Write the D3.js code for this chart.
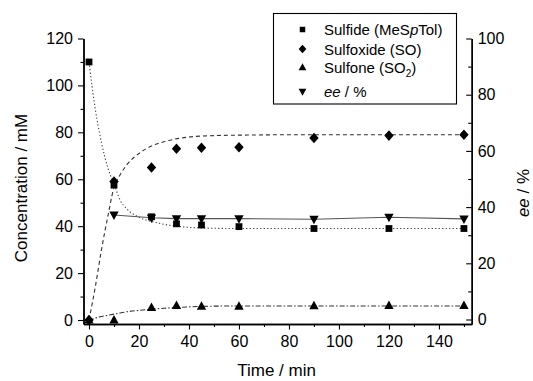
<!DOCTYPE html>
<html>
<head>
<meta charset="utf-8">
<script src="https://cdn.jsdelivr.net/npm/d3@7"></script>
<style>
  body { margin: 0; background: #fff; }
  svg { font-family: "Liberation Sans", Arial, sans-serif; }
</style>
</head>
<body>
<div id="chart"></div>
<script>
// measured points
var times = [0, 10, 25, 35, 45, 60, 90, 120, 150];
var sulfide = [110, 57.5, 44, 41, 40.5, 39.8, 39, 39, 39];
var sulfoxide = [0, 59, 65, 73, 73.4, 73.6, 77.6, 78.6, 79];
var sulfone = [0, 0, 5.3, 6.1, 5.8, 5.8, 6.0, 6.1, 6.1];
var eeTimes = [10, 25, 35, 45, 60, 90, 120, 150];
var ee = [37.2, 36.2, 35.9, 35.9, 35.9, 35.7, 36.4, 35.8];

// fitted curves
var fitTimes = [0, 2.5, 5, 7.5, 10, 12.5, 15, 20, 25, 30, 40, 50, 60, 90, 120, 150];
var sulfideFit = [110, 90, 75.5, 65, 58, 51, 47.5, 43.8, 42, 40.8, 39.5, 39.1, 39, 39, 39, 39];
var sulfoxideFit = [0, 14, 30, 44, 56.5, 62, 66, 71, 74.2, 76, 78, 78.6, 78.8, 79, 79, 79];
var sulfoneFit = [-0.3, 0.8, 1.5, 2.0, 2.5, 3.0, 3.5, 4.1, 4.6, 5.0, 5.6, 5.9, 6.0, 6.0, 6.0, 6.0];

var xTicks = [0, 20, 40, 60, 80, 100, 120, 140];
var xMinor = [10, 30, 50, 70, 90, 110, 130, 150];
var yTicks = [0, 20, 40, 60, 80, 100, 120];
var yMinor = [10, 30, 50, 70, 90, 110];
var eeTicks = [0, 20, 40, 60, 80, 100];
var eeMinor = [10, 30, 50, 70, 90];

var w = 533, h = 381;
var plotLeft = 83.5, plotRight = 471.7, plotTop = 38.5, plotBottom = 324;

var svg = d3.select('#chart').append('svg')
    .attr('width', w).attr('height', h);

var x = d3.scaleLinear().domain([-2.2, 153.1]).range([plotLeft, plotRight]);
var y = d3.scaleLinear().domain([-1.7, 120]).range([plotBottom, plotTop]);
var yR = d3.scaleLinear().domain([-1.6, 100]).range([plotBottom, plotTop]);

// marker shapes
function shape(kind, s) {
    var p = d3.path();
    if (kind == 'square') {
        p.rect(-s / 2, -s / 2, s, s);
    } else if (kind == 'diamond') {
        p.moveTo(0, -s * 0.62); p.lineTo(s * 0.55, 0); p.lineTo(0, s * 0.62); p.lineTo(-s * 0.55, 0); p.closePath();
    } else if (kind == 'up') {
        p.moveTo(0, -s * 0.6); p.lineTo(s * 0.55, s * 0.4); p.lineTo(-s * 0.55, s * 0.4); p.closePath();
    } else {
        p.moveTo(0, s * 0.6); p.lineTo(s * 0.55, -s * 0.4); p.lineTo(-s * 0.55, -s * 0.4); p.closePath();
    }
    return p.toString();
}

// curves
function drawLine(xs, ys, yScale, dash, color, curve) {
    var line = d3.line()
        .x(function (d) { return x(d[0]); })
        .y(function (d) { return yScale(d[1]); })
        .curve(curve);
    svg.append('path')
        .datum(xs.map(function (t, i) { return [t, ys[i]]; }))
        .attr('d', line)
        .attr('fill', 'none')
        .attr('stroke', color)
        .attr('stroke-width', 1.1)
        .attr('stroke-dasharray', dash);
}

drawLine(fitTimes, sulfideFit, y, '1.3,2.2', '#444', d3.curveMonotoneX);
drawLine(fitTimes, sulfoxideFit, y, '4,3', '#333', d3.curveMonotoneX);
drawLine(fitTimes, sulfoneFit, y, '5,2,1.5,2', '#333', d3.curveMonotoneX);
drawLine(eeTimes, ee, yR, null, '#555', d3.curveLinear);

// markers
function drawPoints(xs, ys, yScale, kind, s) {
    svg.append('g').selectAll('path')
        .data(xs.map(function (t, i) { return [t, ys[i]]; }))
        .enter().append('path')
        .attr('transform', function (d) { return 'translate(' + x(d[0]) + ',' + yScale(d[1]) + ')'; })
        .attr('d', shape(kind, s))
        .attr('fill', '#000');
}
drawPoints(times, sulfide, y, 'square', 6.8);
drawPoints(times, sulfoxide, y, 'diamond', 8.5);
drawPoints(times, sulfone, y, 'up', 8.5);
drawPoints(eeTimes, ee, yR, 'down', 8.5);

// axes
function styleAxis(g) {
    g.select('.domain').attr('stroke-width', 1.4);
    g.selectAll('.tick line').attr('stroke-width', 1.1);
    g.selectAll('text').attr('font-size', 16).attr('fill', '#000')
        .attr('font-family', '"Liberation Sans", Arial, sans-serif');
}

svg.append('g').attr('transform', 'translate(0,' + plotBottom + ')')
    .call(d3.axisBottom(x).tickValues(xMinor).tickSize(3).tickFormat('').tickSizeOuter(0))
    .call(styleAxis);
svg.append('g').attr('transform', 'translate(0,' + plotBottom + ')')
    .call(d3.axisBottom(x).tickValues(xTicks).tickSize(5.5).tickPadding(6).tickSizeOuter(0))
    .call(styleAxis);

svg.append('g').attr('transform', 'translate(' + plotLeft + ',0)')
    .call(d3.axisLeft(y).tickValues(yMinor).tickSize(3).tickFormat('').tickSizeOuter(0))
    .call(styleAxis);
svg.append('g').attr('transform', 'translate(' + plotLeft + ',0)')
    .call(d3.axisLeft(y).tickValues(yTicks).tickSize(5.5).tickPadding(5).tickSizeOuter(0))
    .call(styleAxis);

svg.append('g').attr('transform', 'translate(' + plotRight + ',0)')
    .call(d3.axisRight(yR).tickValues(eeMinor).tickSizeInner(-3.5).tickFormat('').tickSizeOuter(0))
    .call(styleAxis);
svg.append('g').attr('transform', 'translate(' + plotRight + ',0)')
    .call(d3.axisRight(yR).tickValues(eeTicks).tickSizeInner(-5.5).tickPadding(6).tickSizeOuter(0))
    .call(styleAxis);

// axis titles
svg.append('text')
    .attr('x', (plotLeft + plotRight) / 2 - 1).attr('y', 376)
    .attr('text-anchor', 'middle').attr('font-size', 17)
    .text('Time / min');

svg.append('text')
    .attr('transform', 'translate(27,' + 188 + ') rotate(-90)')
    .attr('text-anchor', 'middle').attr('font-size', 17)
    .text('Concentration / mM');

var eeTitle = svg.append('text')
    .attr('transform', 'translate(529,' + 193 + ') rotate(-90)')
    .attr('text-anchor', 'middle').attr('font-size', 17);
eeTitle.append('tspan').attr('font-style', 'italic').text('ee');
eeTitle.append('tspan').text(' / %');

// legend
var legend = svg.append('g');
legend.append('rect')
    .attr('x', 273.5).attr('y', 13.5).attr('width', 183).attr('height', 90.5)
    .attr('fill', '#fff').attr('stroke', '#000').attr('stroke-width', 1.1);

var legendRows = [
    { kind: 'square', y: 29.5, s: 5.5 },
    { kind: 'diamond', y: 49, s: 7 },
    { kind: 'up', y: 67.5, s: 7 },
    { kind: 'down', y: 91.5, s: 7 }
];
legend.selectAll('.mk').data(legendRows).enter().append('path')
    .attr('transform', function (d) { return 'translate(302.5,' + d.y + ')'; })
    .attr('d', function (d) { return shape(d.kind, d.s); })
    .attr('fill', '#000');

var t1 = legend.append('text').attr('x', 324).attr('y', 35).attr('font-size', 15);
t1.append('tspan').text('Sulfide (MeS');
t1.append('tspan').attr('font-style', 'italic').text('p');
t1.append('tspan').text('Tol)');

legend.append('text').attr('x', 324).attr('y', 54.5).attr('font-size', 15).text('Sulfoxide (SO)');

var t3 = legend.append('text').attr('x', 324).attr('y', 73).attr('font-size', 15);
t3.append('tspan').text('Sulfone (SO');
t3.append('tspan').attr('font-size', 10).attr('dy', 4).text('2');
t3.append('tspan').attr('dy', -4).text(')');

var t4 = legend.append('text').attr('x', 324).attr('y', 97).attr('font-size', 15);
t4.append('tspan').attr('font-style', 'italic').text('ee');
t4.append('tspan').text(' / %');
</script>
</body>
</html>
